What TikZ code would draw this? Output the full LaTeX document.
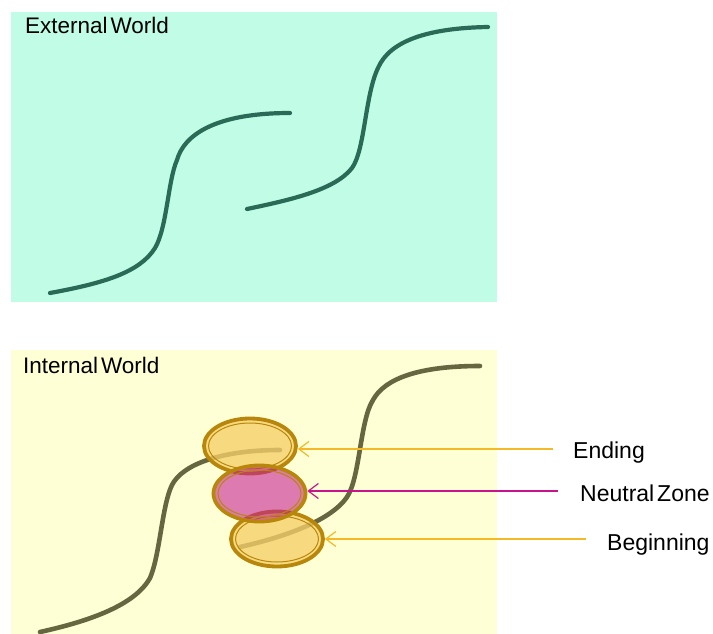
\documentclass[tikz,border=0pt]{standalone}
\usepackage{fontspec}
\setmainfont{Liberation Sans}[WordSpace=0.45]
\usetikzlibrary{shapes.geometric,arrows.meta}
\definecolor{extbg}{RGB}{192,252,230}
\definecolor{intbg}{RGB}{255,255,213}
\definecolor{extcurve}{RGB}{42,106,86}
\definecolor{intcurve}{RGB}{102,102,64}
\definecolor{goldline}{RGB}{184,134,11}
\definecolor{goldfill}{RGB}{245,208,105}
\definecolor{pinkfill}{RGB}{195,20,150}
\definecolor{orangearrow}{RGB}{245,185,40}
\definecolor{magentaarrow}{RGB}{200,20,140}
\tikzset{
  worldtext/.style={anchor=base west, inner sep=0pt, font=\fontsize{22.5}{26}\selectfont},
  labeltext/.style={anchor=base west, inner sep=0pt, font=\fontsize{23}{26}\selectfont},
  extline/.style={draw=extcurve, line width=4.2pt, line cap=round},
  intline/.style={draw=intcurve, line width=4.6pt, line cap=round},
  zone/.style={ellipse, inner sep=0pt, minimum width=92pt, minimum height=55pt,
    draw=goldline, line width=3.8pt},
  innerring/.style={draw=goldline, line width=1pt},
  pointer/.style={line width=1.3pt, -{Straight Barb[length=10pt,width=15pt,line width=1.2pt]}},
}
\begin{document}
\begin{tikzpicture}[x=1pt,y=-1pt]
\useasboundingbox (0,0) rectangle (713,634);
% backgrounds
\fill[extbg] (11,12) rectangle (497,302);
\fill[intbg] (11,350) rectangle (497,634);
\node[worldtext] (ext) at (25,34) {External World};
\node[worldtext] (int) at (23,373) {Internal World};
% external curves
\draw[extline] (50,293) .. controls (105,283) and (140,272) .. (155,248)
  .. controls (167,228) and (168,180) .. (177,160)
  .. controls (184,135) and (215,113) .. (290,113);
\draw[extline] (247,209) .. controls (290,200) and (335,190) .. (352,168)
  .. controls (365,150) and (365,95) .. (378,68)
  .. controls (390,40) and (430,28) .. (488,27);
% internal curves
\draw[intline] (40,632) .. controls (90,621) and (135,605) .. (150,578)
  .. controls (160,555) and (162,505) .. (172,485)
  .. controls (182,465) and (220,450) .. (280,450);
\draw[intline] (240,547) .. controls (280,538) and (330,522) .. (347,497)
  .. controls (360,478) and (360,420) .. (373,400)
  .. controls (385,378) and (420,366) .. (480,366);
% zones
\node[zone, fill=goldfill, fill opacity=0.78] (ending) at (250,446) {};
\draw[innerring] (ending.center) ellipse [x radius=41.5, y radius=23];
\node[zone, fill=goldfill, fill opacity=0.78] (beginning) at (277,539) {};
\draw[innerring] (beginning.center) ellipse [x radius=41.5, y radius=23];
\node[zone, fill=pinkfill, fill opacity=0.56, minimum height=56pt] (neutral) at (259.5,493.5) {};
\draw[innerring] (neutral.center) ellipse [x radius=41.5, y radius=23.5];
% labels and pointers
\node[labeltext] (lend) at (573,458) {Ending};
\node[labeltext] (lneu) at (580,501) {Neutral Zone};
\node[labeltext] (lbeg) at (607,550) {Beginning};
\coordinate (pend) at (553,449);
\coordinate (pneu) at (558,491);
\coordinate (pbeg) at (586,539);
\draw[pointer, draw=orangearrow] (pend) -- (pend -| ending.east);
\draw[pointer, draw=magentaarrow] (pneu) -- (pneu -| neutral.east);
\draw[pointer, draw=orangearrow] (pbeg) -- (pbeg -| beginning.east);
\end{tikzpicture}
\end{document}
